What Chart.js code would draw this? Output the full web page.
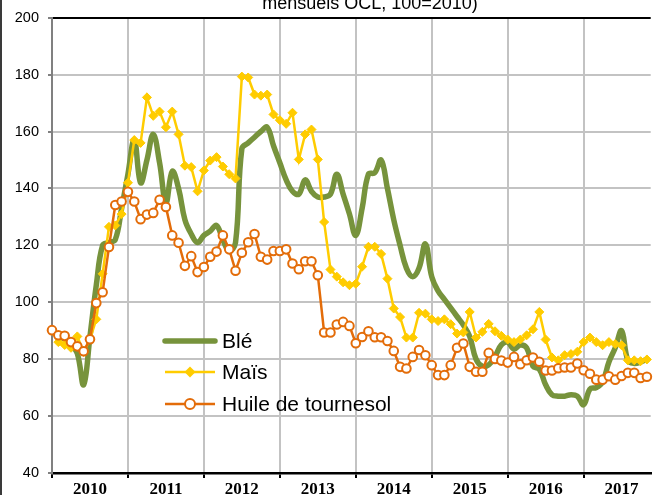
<!DOCTYPE html>
<html>
<head>
<meta charset="utf-8">
<title>Prix mensuels - blé, maïs, huile de tournesol</title>
<script src="https://cdn.jsdelivr.net/npm/chart.js"></script>
<style>
  html, body { margin: 0; padding: 0; background: #fff; overflow: hidden; }
  #wrap { position: relative; width: 657px; height: 495px; }
</style>
</head>
<body>
<div id="wrap"><canvas id="graphique" width="657" height="495"></canvas></div>
<script>
// Années affichées sous l'axe
var annees = ['2010', '2011', '2012', '2013', '2014', '2015', '2016', '2017'];

// Indices mensuels, de janvier 2010 à novembre 2017
var ble = [90, 88, 87, 85, 82, 71, 88, 106, 120, 121, 122, 133,
  145, 157, 142, 150, 159, 149, 135, 146, 140, 129, 124, 121,
  123.5, 125, 127, 122, 118, 121, 154, 156, 158, 160, 161.5, 155,
  149, 143, 139, 138, 143, 139, 137, 137, 138, 145, 138, 131,
  123.5, 133, 145, 145.5, 150, 140, 129, 120, 112, 109, 112, 120.5,
  109, 104, 101, 98, 95, 92, 88, 80, 77.5, 78, 81, 85,
  86, 83.5, 85, 84, 77.5, 76.5, 71, 67.5, 67, 67, 67.5, 67,
  64, 69.5, 70, 72, 79, 84, 90, 79.5, 78.5, 79, 80];

var mais = [90, 86, 85, 84, 88, 82.5, 87, 94, 110, 126.5, 127, 131,
  142, 157, 156, 172, 165.5, 167, 161.5, 167, 159, 148, 147.5, 139,
  146.3, 149.8, 151, 147.7, 145, 143.5, 179.3, 179, 173, 172.6, 173, 166,
  164, 162.7, 166.6, 150.2, 159, 160.7, 150.2, 128.2, 111.5, 109, 107, 106,
  106.5, 112.5, 119.5, 119.5, 117, 108.3, 97.8, 94.8, 87.6, 87.6, 96.3, 96,
  94, 93.4, 94, 92.3, 89, 89.4, 96.6, 87.6, 89.6, 92.4, 89.8, 88.2,
  86.9, 86, 86.9, 88.4, 90.5, 96.6, 86.9, 80.6, 79.6, 81.4, 81.8, 82.6,
  86, 87.6, 86, 84.9, 86, 85.3, 84.9, 79.6, 79.6, 79.3, 79.9];

var huile = [90.2, 88.4, 88.2, 86, 84.5, 82.8, 87, 99.7, 103.5, 119.4, 134.2, 135.4,
  138.8, 135.4, 129.2, 130.8, 131.4, 136, 133.5, 123.5, 120.9, 112.8, 116.2, 110.6,
  112.4, 116, 117.8, 123.5, 118.6, 111.1, 117.4, 121.1, 124, 116, 115, 118,
  118, 118.6, 113.6, 111.6, 114.4, 114.4, 109.5, 89.4, 89.4, 92.2, 93.1, 91.7,
  85.6, 87.8, 89.8, 87.7, 87.7, 86.4, 82.9, 77.3, 76.7, 80.8, 83.2, 81.4,
  77.9, 74.4, 74.4, 77.9, 84, 85.5, 77.3, 75.6, 75.6, 82.2, 80.1, 79.5,
  78.8, 80.8, 78.2, 79.6, 80.6, 79.1, 76, 76, 76.8, 77.1, 77.1, 78.5,
  76.1, 74.9, 72.8, 72.8, 74, 72.8, 74.1, 75.2, 75.2, 73.4, 73.8];

var series = ['Blé', 'Maïs', 'Huile de tournesol'];

function points(serie) {
  return serie.map(function (v, i) { return { x: i, y: v }; });
}

// graduations tous les 6 mois : traits aux janvier, libellés au milieu de l'année
var graduations = [];
for (var m = 0; m <= 90; m += 6) graduations.push(m);

// fin du titre (coupé en haut), bord gauche et légende dans le graphique
var decor = {
  id: 'decor',
  beforeDraw: function (chart) {
    var ctx = chart.ctx;
    ctx.save();
    ctx.fillStyle = '#fff';
    ctx.fillRect(0, 0, chart.width, chart.height);
    ctx.restore();
  },
  afterDraw: function (chart) {
    var ctx = chart.ctx;
    ctx.save();
    ctx.fillStyle = '#3a3a3a';
    ctx.fillRect(0, 0, 2, chart.height);

    ctx.fillStyle = '#000';
    ctx.font = '18px "Liberation Sans", Arial, sans-serif';
    ctx.textAlign = 'center';
    ctx.textBaseline = 'alphabetic';
    ctx.fillText('mensuels OCL, 100=2010)', 370, 9);

    var lignes = [341, 372, 404];
    chart.data.datasets.forEach(function (ds, i) {
      var y = lignes[i];
      ctx.strokeStyle = ds.borderColor;
      ctx.lineWidth = ds.borderWidth;
      ctx.lineCap = i === 0 ? 'round' : 'butt';
      ctx.beginPath();
      ctx.moveTo(165, y);
      ctx.lineTo(215, y);
      ctx.stroke();
      if (ds.pointStyle === 'circle') {
        ctx.fillStyle = ds.pointBackgroundColor;
        ctx.lineWidth = ds.pointBorderWidth;
        ctx.beginPath();
        ctx.arc(190, y, 5, 0, Math.PI * 2);
        ctx.fill();
        ctx.stroke();
      } else if (ds.pointStyle === 'rectRot') {
        ctx.fillStyle = ds.pointBackgroundColor;
        ctx.beginPath();
        ctx.moveTo(190, y - 5.5);
        ctx.lineTo(195.5, y);
        ctx.lineTo(190, y + 5.5);
        ctx.lineTo(184.5, y);
        ctx.closePath();
        ctx.fill();
      }
      ctx.fillStyle = '#000';
      ctx.font = '21px "Liberation Sans", Arial, sans-serif';
      ctx.textAlign = 'left';
      ctx.textBaseline = 'middle';
      ctx.fillText(ds.label, 222, y + 1);
    });
    ctx.restore();
  }
};

var ctx = document.getElementById('graphique').getContext('2d');
var graphique = new Chart(ctx, {
  type: 'line',
  data: {
    datasets: [
      {
        label: series[0],
        data: points(ble),
        borderColor: '#77933C',
        borderWidth: 5.5,
        tension: 0.4,
        pointRadius: 0,
        borderCapStyle: 'round',
        borderJoinStyle: 'round',
        order: 3
      },
      {
        label: series[1],
        data: points(mais),
        borderColor: '#FFCC00',
        borderWidth: 2.5,
        tension: 0,
        pointStyle: 'rectRot',
        pointRadius: 4.5,
        pointBackgroundColor: '#FFCC00',
        pointBorderColor: '#FFCC00',
        pointBorderWidth: 1,
        order: 2
      },
      {
        label: series[2],
        data: points(huile),
        borderColor: '#E36C09',
        borderWidth: 2.5,
        tension: 0,
        pointStyle: 'circle',
        pointRadius: 4.3,
        pointBackgroundColor: '#ffffff',
        pointBorderColor: '#E36C09',
        pointBorderWidth: 2,
        order: 1
      }
    ]
  },
  options: {
    responsive: false,
    animation: false,
    clip: false,
    layout: { padding: { top: 17, right: 0, bottom: 0, left: 0 } },
    plugins: {
      legend: { display: false },
      tooltip: { enabled: false }
    },
    scales: {
      x: {
        type: 'linear',
        min: 0,
        max: 94.6,
        afterBuildTicks: function (s) {
          s.ticks = graduations.map(function (v) { return { value: v }; });
        },
        afterFit: function (s) { s.height = 22; },
        ticks: {
          autoSkip: false,
          maxRotation: 0,
          padding: 1,
          color: '#000',
          font: { family: '"Liberation Serif", "Times New Roman", serif', size: 17, weight: 'bold' },
          callback: function (v) { return v % 12 === 6 ? annees[(v - 6) / 12] : ''; }
        },
        grid: {
          color: function (c) { return c.tick && c.tick.value % 12 === 0 ? '#C3C3C3' : 'rgba(0,0,0,0)'; },
          lineWidth: 2,
          tickLength: 5,
          tickWidth: 2,
          tickColor: function (c) { return c.tick && c.tick.value % 12 === 0 ? '#000' : 'rgba(0,0,0,0)'; }
        },
        border: { color: '#000', width: 2.5 }
      },
      y: {
        min: 40,
        max: 200,
        afterFit: function (s) { s.width = 52; },
        ticks: {
          stepSize: 20,
          padding: 9,
          color: '#000',
          font: { family: '"Liberation Sans", Arial, sans-serif', size: 14.5 }
        },
        grid: {
          color: function (c) { return c.tick && c.tick.value === 200 ? '#000' : '#C3C3C3'; },
          lineWidth: 2,
          tickLength: 4,
          tickWidth: 2,
          tickColor: '#808080'
        },
        border: { color: '#808080', width: 2 }
      }
    }
  },
  plugins: [decor]
});
</script>
</body>
</html>
